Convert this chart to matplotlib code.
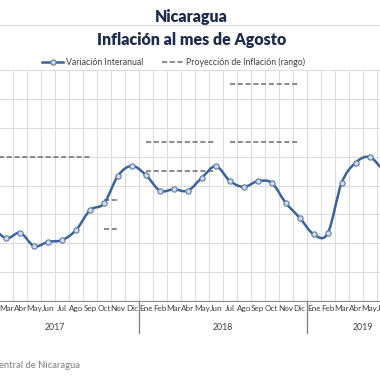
import numpy as np
import matplotlib
matplotlib.use('Agg')
import matplotlib.pyplot as plt
import matplotlib.transforms as mtransforms
from matplotlib.path import Path
from matplotlib.patches import PathPatch
from matplotlib.lines import Line2D

plt.rcParams['font.family'] = ['Lato', 'DejaVu Sans']

years = ['2017', '2018', '2019']
meses_por_anio = [12, 12, 8]
months = ['Ene', 'Feb', 'Mar', 'Abr', 'May', 'Jun', 'Jul', 'Ago', 'Sep', 'Oct', 'Nov', 'Dic']
month_labels = months + months + months[:8]

# variacion interanual (%)
inflacion = [3.80, 3.56, 3.17, 3.36, 2.90, 3.05, 3.11, 3.46, 4.15, 4.38, 5.34, 5.68,
             5.36, 4.82, 4.87, 4.82, 5.27, 5.67, 5.16, 4.95, 5.15, 5.09, 4.40, 3.88,
             3.31, 3.34, 5.09, 5.79, 5.99, 5.55, 5.45, 5.30]

# proyeccion de inflacion (rango): mes inicial, mes final, valor
proy_inicio = [0, 9, 9, 12, 12, 18, 18]
proy_fin = [8, 10, 10, 17, 17, 23, 23]
proy_valor = [6.0, 4.5, 3.5, 6.5, 5.5, 8.5, 6.5]

azul = '#3C6399'
gris = '#808080'
navy = '#1F2B4A'


def curva_suave(xs, ys):
    # linea suavizada tipo Excel (Catmull-Rom -> Bezier)
    pts = np.column_stack([xs, ys]).astype(float)
    n = len(pts)
    verts = [pts[0]]
    codes = [Path.MOVETO]
    for i in range(n - 1):
        p0 = pts[max(i - 1, 0)]
        p1 = pts[i]
        p2 = pts[i + 1]
        p3 = pts[min(i + 2, n - 1)]
        verts += [p1 + (p2 - p0) / 6, p2 - (p3 - p1) / 6, p2]
        codes += [Path.CURVE4] * 3
    return Path(verts, codes)


fig = plt.figure(figsize=(3.8, 3.8), dpi=100)
fig.patch.set_facecolor('white')
ax = fig.add_axes([-28.7 / 380, 79 / 380, 447.2 / 380, 231 / 380])

x = np.arange(len(inflacion))
ax.set_xlim(-0.5, len(inflacion) - 0.5)
ax.set_ylim(1, 9)

# rejilla
ax.set_yticks(range(1, 10))
ax.set_xticks(x)
ax.set_xticks(np.arange(-0.5, len(inflacion), 1), minor=True)
ax.yaxis.grid(True, color='#DCDCDC', lw=0.8)
ax.xaxis.grid(True, which='minor', color='#DCDCDC', lw=0.8)
ax.xaxis.grid(False, which='major')
ax.set_axisbelow(True)
ax.tick_params(axis='y', length=0, labelleft=False)
ax.tick_params(axis='x', which='both', length=0, pad=3.2)
ax.set_xticklabels(month_labels, fontsize=5.9, color='#404040')
for s in ['top', 'left', 'right']:
    ax.spines[s].set_visible(False)
ax.spines['bottom'].set_color('#8C8C8C')
ax.spines['bottom'].set_linewidth(0.8)

# proyeccion
for a, b, v in zip(proy_inicio, proy_fin, proy_valor):
    ax.plot([a, b], [v, v], color=gris, lw=1.3, linestyle=(0, (2.8, 1.5)), zorder=2)

# variacion interanual
ax.add_patch(PathPatch(curva_suave(x, inflacion), facecolor='none', edgecolor=azul,
                       lw=1.8, zorder=3, joinstyle='round', capstyle='round'))
ax.plot(x, inflacion, 'o', ms=3.8, mfc='#D5DBE5', mec='#5A7BA8', mew=0.8, zorder=4)

# eje de anios
trans = mtransforms.blended_transform_factory(ax.transData, ax.transAxes)
inicio = -0.5
for yr, n in zip(years, meses_por_anio):
    ax.text(inicio + n / 2, -0.1126, yr, transform=trans, ha='center', va='center',
            fontsize=6.3, color='#404040')
    ax.plot([inicio, inicio], [0, -0.139], transform=trans, color='#7F7F7F', lw=0.9,
            clip_on=False)
    inicio += n
ax.plot([inicio, inicio], [0, -0.139], transform=trans, color='#7F7F7F', lw=0.9,
        clip_on=False)

# leyenda
h1 = Line2D([], [], color=azul, lw=1.8, marker='o', ms=3.8, mfc='#D5DBE5', mec='#5A7BA8', mew=0.8)
h2 = Line2D([], [], color=gris, lw=1.3, linestyle=(0, (2.8, 1.5)))
leg = ax.legend([h1, h2], ['Variación Interanual', 'Proyección de Inflación (rango)'],
                ncol=2, loc='center', bbox_to_anchor=(0.457, 1 - 62 / 380),
                bbox_transform=fig.transFigure, frameon=False, fontsize=6.3,
                handlelength=2.4, handletextpad=0.3, columnspacing=2.2)
for t in leg.get_texts():
    t.set_color('#404040')

# titulos
fig.text(0.503, 1 - 17 / 380, 'Nicaragua', ha='center', va='center', fontsize=11.5,
         fontweight='heavy', color=navy)
fig.text(0.503, 1 - 40 / 380, 'Inflación al mes de Agosto', ha='center', va='center',
         fontsize=11.5, fontweight='heavy', color=navy)
fig.add_artist(Line2D([0, 1], [1 - 25 / 380] * 2, transform=fig.transFigure,
                      color='#D9D9D9', lw=0.8))

fig.text(80 / 380, 1 - 365 / 380, 'Fuente: Banco Central de Nicaragua', ha='right',
         va='center', fontsize=6.8, color='#7F7F7F')

fig.savefig('out.png', dpi=100)
